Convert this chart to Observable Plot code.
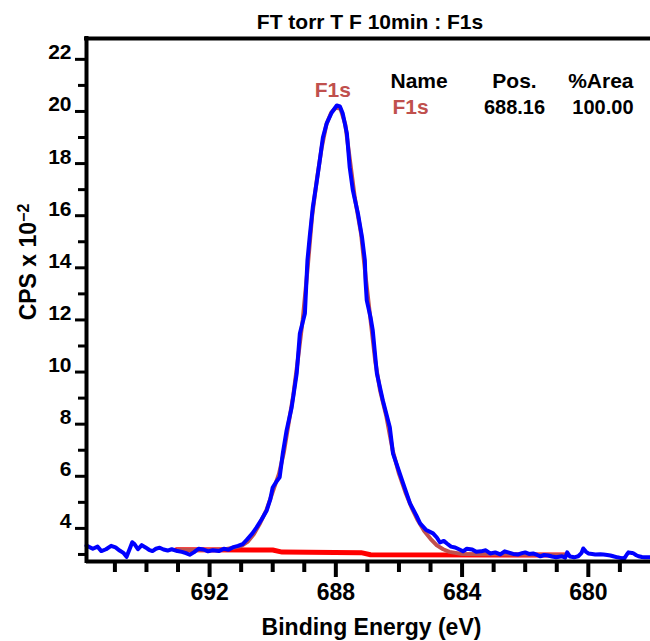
<!DOCTYPE html>
<html><head><meta charset="utf-8">
<script src="https://cdn.jsdelivr.net/npm/d3@7"></script>
<script src="https://cdn.jsdelivr.net/npm/@observablehq/plot@0.6"></script>
<style>
body{margin:0;background:#fff;}
#wrap{position:relative;width:650px;height:641px;overflow:hidden;font-family:"Liberation Sans",Arial,sans-serif;}
#wrap svg{position:absolute;left:0;top:0;}
#title{position:absolute;top:11px;left:370px;transform:translateX(-50%);font-size:21px;font-weight:bold;line-height:21px;white-space:nowrap;color:#000;z-index:2;}
</style></head><body>
<div id="wrap"><div id="title"></div></div>
<script>
const titleText = "FT torr T F 10min : F1s";
const xLabel = "Binding Energy (eV)";
const yLabel = "CPS x 10";
const yExponent = "\u22122";
const xDomain = [695.9, 678.03];
const yDomain = [2.73, 22.8];
const xMajorTicks = [692, 688, 684, 680];
const xMinorTicks = [695, 694, 693, 691, 690, 689, 687, 686, 685, 683, 682, 681, 679];
const yMajorTicks = [4, 6, 8, 10, 12, 14, 16, 18, 20, 22];
const yMinorTicks = [3, 5, 7, 9, 11, 13, 15, 17, 19, 21];
const tableHeaders = ["Name", "Pos.", "%Area"];
const peakName = "F1s";
const peakPos = 688.16;
const peakArea = 100.00;

// measured spectrum [binding energy eV, CPS x 10^-2]
const spectrum = [
[695.90,3.34],[695.70,3.22],[695.55,3.30],[695.43,3.13],[695.28,3.20],[695.12,3.33],[694.98,3.27],[694.85,3.15],
[694.72,3.05],[694.63,2.91],[694.52,3.25],[694.45,3.47],[694.38,3.40],[694.27,3.20],[694.15,3.36],[694.03,3.27],
[693.92,3.18],[693.81,3.13],[693.70,3.22],[693.58,3.26],[693.46,3.19],[693.33,3.15],[693.20,3.20],[693.02,3.13],
[692.88,3.10],[692.75,3.05],[692.63,2.99],[692.50,3.08],[692.35,3.22],[692.19,3.19],[692.05,3.12],[691.90,3.16],
[691.71,3.13],[691.55,3.22],[691.40,3.18],[691.27,3.27],[691.10,3.33],[690.95,3.40],[690.83,3.55],[690.65,3.80],
[690.51,4.04],[690.35,4.35],[690.19,4.69],[690.08,5.10],[690.00,5.57],[689.88,5.80],[689.78,5.96],[689.68,6.88],
[689.56,7.76],[689.40,8.64],[689.24,9.95],[689.14,11.48],[688.98,12.25],[688.93,13.52],[688.90,14.28],[688.83,15.17],
[688.73,16.32],[688.60,17.35],[688.51,18.12],[688.41,19.00],[688.29,19.54],[688.13,19.96],[687.97,20.23],[687.87,20.19],
[687.78,19.92],[687.65,19.16],[687.56,17.85],[687.46,16.97],[687.30,16.09],[687.17,15.17],[687.08,14.28],[687.06,13.52],
[687.02,12.75],[686.90,12.10],[686.83,11.60],[686.70,9.95],[686.51,8.91],[686.29,7.88],[686.19,6.88],[685.90,5.84],
[685.65,4.96],[685.45,4.50],[685.33,4.19],[685.15,3.95],[684.92,3.81],[684.80,3.65],[684.70,3.46],[684.58,3.52],
[684.48,3.42],[684.35,3.30],[684.22,3.27],[684.10,3.20],[683.97,3.12],[683.85,3.22],[683.68,3.19],[683.55,3.10],
[683.40,3.12],[683.25,3.16],[683.11,3.04],[682.95,3.08],[682.79,3.00],[682.65,3.12],[682.54,3.08],[682.38,3.02],
[682.22,3.00],[682.10,3.05],[682.00,3.08],[681.88,3.02],[681.75,3.04],[681.62,2.98],[681.52,2.93],[681.40,2.98],
[681.27,2.96],[681.15,2.92],[681.02,2.89],[680.83,2.93],[680.73,2.88],[680.67,3.08],[680.58,2.92],[680.45,2.89],
[680.32,2.93],[680.22,3.05],[680.16,3.23],[680.07,3.10],[680.00,3.04],[679.88,3.02],[679.78,3.00],[679.62,3.01],
[679.52,3.00],[679.40,2.98],[679.30,2.96],[679.18,2.92],[679.08,2.89],[678.95,2.86],[678.86,2.85],[678.78,3.00],
[678.73,3.08],[678.62,3.06],[678.57,3.04],[678.48,2.97],[678.41,2.93],[678.30,2.90],[678.22,2.89],[678.03,2.89]
];

// fitted F1s envelope
const envelope = [
[693.0,3.18],[692.0,3.17],[691.5,3.20],[691.0,3.32],[690.8,3.48],[690.6,3.78],[690.4,4.20],[690.2,4.70],
[690.0,5.40],[689.8,6.10],[689.65,6.90],[689.5,8.00],[689.35,9.10],[689.2,10.50],[689.05,12.00],[688.9,13.90],
[688.75,16.00],[688.6,17.40],[688.45,18.60],[688.3,19.50],[688.15,19.95],[688.0,20.15],[687.85,20.10],[687.7,19.50],
[687.55,18.10],[687.4,16.70],[687.2,15.30],[687.05,13.60],[686.9,12.00],[686.75,10.40],[686.6,9.30],[686.4,8.30],
[686.2,7.00],[686.0,6.10],[685.8,5.40],[685.6,4.80],[685.4,4.30],[685.2,3.90],[685.0,3.60],[684.8,3.35],
[684.6,3.20],[684.4,3.10],[684.0,3.02],[682.0,2.99],[680.7,2.98]
];

// Shirley background
const background = [
[693.05,3.18],[690.0,3.17],[689.7,3.09],[687.2,3.07],[686.9,2.99],[680.7,2.98]
];

document.getElementById("title").textContent = titleText;

const peakTop = d3.max(spectrum, d => d[1]);
const font = {fontWeight: "bold"};

const chart = Plot.plot({
  width: 650, height: 641,
  marginLeft: 86, marginRight: 0, marginTop: 38, marginBottom: 80,
  style: {fontFamily: "'Liberation Sans', Arial, sans-serif", color: "#000", background: "transparent"},
  x: {domain: xDomain, axis: null},
  y: {domain: yDomain, axis: null},
  marks: [
    Plot.line(background, {x: d => d[0], y: d => d[1], stroke: "#ff0000", strokeWidth: 5}),
    Plot.line(envelope, {x: d => d[0], y: d => d[1], stroke: "#c0504d", strokeWidth: 4}),
    Plot.line(spectrum, {x: d => d[0], y: d => d[1], stroke: "#0000ff", strokeWidth: 4}),
    Plot.ruleY([yDomain[0]], {stroke: "#000", strokeWidth: 4}),
    Plot.ruleY([yDomain[1]], {stroke: "#000", strokeWidth: 4, insetLeft: -2}),
    Plot.ruleX([xDomain[0]], {stroke: "#000", strokeWidth: 4, insetTop: -2, insetBottom: -2}),
    Plot.axisY(yMinorTicks, {tickSize: 8, strokeWidth: 3, fill: "none", label: null}),
    Plot.axisY(yMajorTicks, {tickSize: 11, strokeWidth: 3, fill: "none", label: null}),
    Plot.text(yMajorTicks, {y: d => d, text: d => String(d), frameAnchor: "left", dx: -15, textAnchor: "end", lineAnchor: "bottom", dy: 0, fontSize: 21, ...font}),
    Plot.axisX(xMinorTicks, {tickSize: 11, strokeWidth: 4, fill: "none", label: null}),
    Plot.axisX(xMajorTicks, {tickSize: 16, strokeWidth: 4, fill: "none", label: null}),
    Plot.axisX(xMajorTicks, {tickSize: 0, tickPadding: 22, fontSize: 23, label: null, tickFormat: d => String(d), ...font}),
    Plot.text([xLabel], {frameAnchor: "bottom", dx: 3, dy: 66, lineAnchor: "middle", fontSize: 23, ...font}),
    Plot.text([yLabel], {frameAnchor: "left", dx: -58, dy: -38, rotate: -90, textAnchor: "middle", lineAnchor: "middle", fontSize: 23, ...font}),
    Plot.text([peakName], {x: () => peakPos, y: () => peakTop, dx: 2, dy: -8, lineAnchor: "bottom", fill: "#c0504d", fontSize: 21, ...font}),
    Plot.text([tableHeaders[0]], {frameAnchor: "top-left", dx: 304, dy: 49, lineAnchor: "bottom", textAnchor: "start", fontSize: 21, ...font}),
    Plot.text([tableHeaders[1]], {frameAnchor: "top-left", dx: 428, dy: 49, lineAnchor: "bottom", textAnchor: "middle", fontSize: 21, ...font}),
    Plot.text([tableHeaders[2]], {frameAnchor: "top-left", dx: 547, dy: 49, lineAnchor: "bottom", textAnchor: "end", fontSize: 21, ...font}),
    Plot.text([peakName], {frameAnchor: "top-left", dx: 306, dy: 75, lineAnchor: "bottom", textAnchor: "start", fill: "#c0504d", fontSize: 21, ...font}),
    Plot.text([peakPos.toFixed(2)], {frameAnchor: "top-left", dx: 428, dy: 75, lineAnchor: "bottom", textAnchor: "middle", fontSize: 20, ...font}),
    Plot.text([peakArea.toFixed(2)], {frameAnchor: "top-left", dx: 547, dy: 75, lineAnchor: "bottom", textAnchor: "end", fontSize: 20, ...font})
  ]
});
// add the exponent as a superscript tspan to the y-axis label
d3.select(chart).selectAll("text").filter(function() { return this.textContent === yLabel; })
  .append("tspan").attr("dy", "-0.45em").attr("font-size", 16).text(yExponent);
document.getElementById("wrap").appendChild(chart);
</script>
</body></html>
